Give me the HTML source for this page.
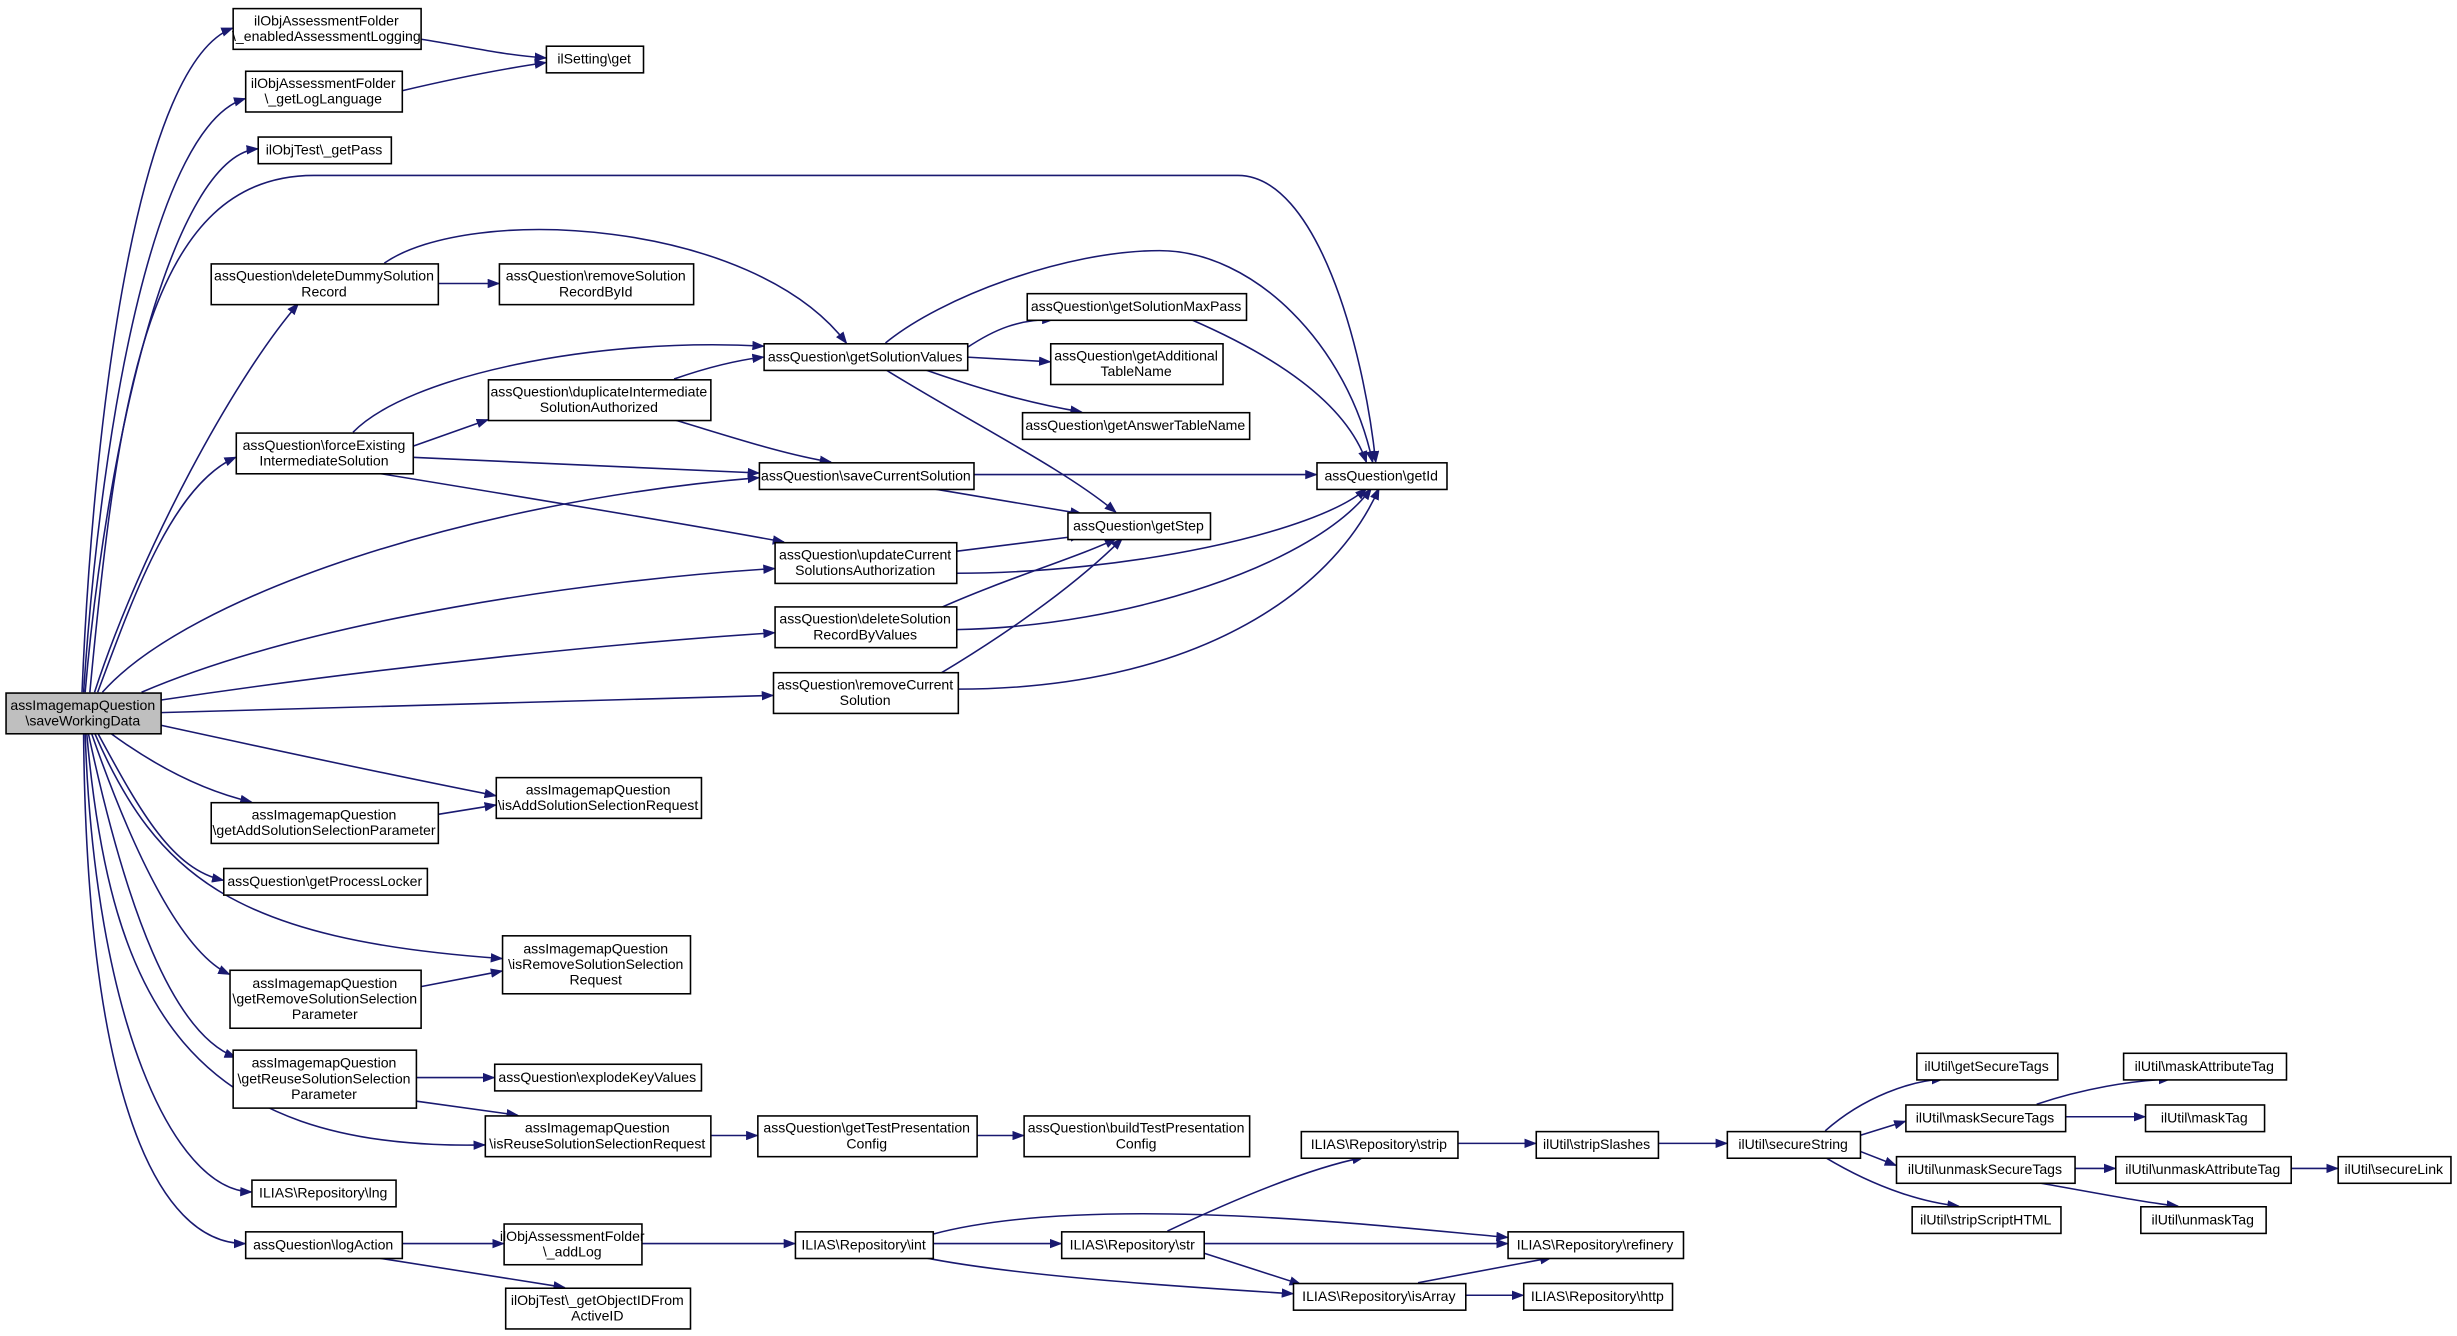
<!DOCTYPE html>
<html><head><meta charset="utf-8"><style>
html,body{margin:0;padding:0;background:#fff;}
svg{display:block}
text{font-family:"Liberation Sans",sans-serif;font-size:9px;fill:#000}
</style></head><body>
<svg id="s" width="2457" height="1336" viewBox="0 0 1568 853" xmlns="http://www.w3.org/2000/svg">
<defs><marker id="a" markerWidth="8" markerHeight="6" refX="7" refY="3" orient="auto" markerUnits="userSpaceOnUse"><path d="M0,0 L8,3 L0,6 z" fill="#191970"/></marker></defs>
<g id="edges" fill="none" stroke="#191970" stroke-width="1" marker-end="url(#a)"></g>
<g id="nodes"></g>
</svg>
<script>
var N=[
[3,442,99,26,["assImagemapQuestion","\\saveWorkingData"],1],
[148,5,120,26,["ilObjAssessmentFolder","\\_enabledAssessmentLogging"]],
[348,29,62,17,["ilSetting\\get"]],
[156,45,100,26,["ilObjAssessmentFolder","\\_getLogLanguage"]],
[164,87,85,17,["ilObjTest\\_getPass"]],
[134,168,145,26,["assQuestion\\deleteDummySolution","Record"]],
[318,168,124,26,["assQuestion\\removeSolution","RecordById"]],
[487,219,130,17,["assQuestion\\getSolutionValues"]],
[655,187,140,17,["assQuestion\\getSolutionMaxPass"]],
[670,219,110,26,["assQuestion\\getAdditional","TableName"]],
[652,263,145,17,["assQuestion\\getAnswerTableName"]],
[311,242,142,26,["assQuestion\\duplicateIntermediate","SolutionAuthorized"]],
[150,276,113,26,["assQuestion\\forceExisting","IntermediateSolution"]],
[484,295,137,17,["assQuestion\\saveCurrentSolution"]],
[840,295,83,17,["assQuestion\\getId"]],
[681,327,91,17,["assQuestion\\getStep"]],
[494,346,116,26,["assQuestion\\updateCurrent","SolutionsAuthorization"]],
[494,387,116,26,["assQuestion\\deleteSolution","RecordByValues"]],
[493,429,118,26,["assQuestion\\removeCurrent","Solution"]],
[316,496,131,26,["assImagemapQuestion","\\isAddSolutionSelectionRequest"]],
[134,512,145,26,["assImagemapQuestion","\\getAddSolutionSelectionParameter"]],
[142,554,130,17,["assQuestion\\getProcessLocker"]],
[320,597,120,37,["assImagemapQuestion","\\isRemoveSolutionSelection","Request"]],
[146,619,122,37,["assImagemapQuestion","\\getRemoveSolutionSelection","Parameter"]],
[148,670,117,37,["assImagemapQuestion","\\getReuseSolutionSelection","Parameter"]],
[315,679,132,17,["assQuestion\\explodeKeyValues"]],
[309,712,144,26,["assImagemapQuestion","\\isReuseSolutionSelectionRequest"]],
[483,712,140,26,["assQuestion\\getTestPresentation","Config"]],
[653,712,144,26,["assQuestion\\buildTestPresentation","Config"]],
[160,753,92,17,["ILIAS\\Repository\\lng"]],
[156,786,100,17,["assQuestion\\logAction"]],
[321,781,88,26,["ilObjAssessmentFolder","\\_addLog"]],
[322,822,118,26,["ilObjTest\\_getObjectIDFrom","ActiveID"]],
[507,786,88,17,["ILIAS\\Repository\\int"]],
[677,786,91,17,["ILIAS\\Repository\\str"]],
[830,722,100,17,["ILIAS\\Repository\\strip"]],
[980,722,78,17,["ilUtil\\stripSlashes"]],
[1102,722,85,17,["ilUtil\\secureString"]],
[962,786,112,17,["ILIAS\\Repository\\refinery"]],
[825,819,110,17,["ILIAS\\Repository\\isArray"]],
[972,819,95,17,["ILIAS\\Repository\\http"]],
[1223,672,90,17,["ilUtil\\getSecureTags"]],
[1216,705,102,17,["ilUtil\\maskSecureTags"]],
[1210,738,114,17,["ilUtil\\unmaskSecureTags"]],
[1220,770,95,17,["ilUtil\\stripScriptHTML"]],
[1355,672,104,17,["ilUtil\\maskAttributeTag"]],
[1369,705,76,17,["ilUtil\\maskTag"]],
[1350,738,112,17,["ilUtil\\unmaskAttributeTag"]],
[1366,770,80,17,["ilUtil\\unmaskTag"]],
[1492,738,72,17,["ilUtil\\secureLink"]]
];
var E=[
"M52,442 C60,250 90,40 148,18","M53,442 C65,260 100,80 156,63","M54,442 C68,280 110,100 164,95",
"M57,442 C75,250 95,112 200,112 L790,112 C840,112 870,220 878,295",
"M60,442 C90,350 150,240 190,194","M62,442 C85,380 110,310 150,292",
"M65,442 C120,380 300,320 484,305","M90,442 C200,395 380,370 494,363",
"M102,447 C250,425 400,410 494,404","M102,455 L493,444",
"M102,463 C180,480 250,495 316,508","M70,468 C100,490 130,505 160,512",
"M62,468 C90,520 110,555 142,562","M60,468 C100,560 150,600 320,612",
"M58,468 C90,560 120,610 146,622","M56,468 C80,580 110,660 150,675",
"M55,468 C70,640 120,735 309,731","M54,468 C60,650 110,760 160,761",
"M53,468 C55,700 100,794 156,794",
"M268,25 C300,30 320,35 348,37","M256,58 C290,50 320,44 348,40",
"M279,181 L318,181","M245,168 C300,130 480,140 540,219",
"M617,222 C635,210 650,204 672,204","M617,228 L670,231",
"M590,236 C630,250 660,258 690,263","M565,236 C620,270 680,300 712,327",
"M565,219 C600,190 680,160 740,160 C800,160 860,220 876,295",
"M760,204 C820,230 860,260 872,295",
"M225,276 C260,240 380,215 487,221","M263,285 L311,268","M263,292 L484,302",
"M240,302 C350,320 440,335 500,346","M430,242 C450,235 470,230 487,228",
"M430,268 C470,280 500,290 530,295","M621,303 L840,303","M595,312 L690,328",
"M610,352 L690,342","M610,366 C720,366 840,340 872,312",
"M598,389 C640,370 690,355 712,344","M610,402 C720,400 840,360 875,312",
"M600,430 C650,400 690,370 716,344","M611,440 C760,440 850,380 880,312",
"M279,520 L316,514","M268,630 L320,620","M265,688 L315,688","M265,703 L330,712",
"M453,725 L483,725","M623,725 L653,725","M256,794 L321,794","M240,803 L360,822",
"M409,794 L507,794","M595,794 L677,794","M595,788 C700,760 900,785 962,790",
"M590,803 C650,815 760,822 825,826","M768,794 L962,794",
"M745,786 C800,760 840,745 870,739","M768,800 L830,820","M905,819 L990,803",
"M935,827 L972,827","M930,730 L980,730","M1058,730 L1102,730",
"M1165,722 C1190,700 1220,690 1240,689","M1187,725 L1216,716","M1187,735 L1210,744",
"M1165,739 C1200,760 1230,768 1250,770","M1300,705 C1330,695 1360,690 1385,689",
"M1318,713 L1369,713","M1324,746 L1350,746","M1300,755 C1340,762 1370,768 1390,770",
"M1462,746 L1492,746"
];
var ns="http://www.w3.org/2000/svg",ge=document.getElementById("edges"),gn=document.getElementById("nodes");
E.forEach(function(d){var p=document.createElementNS(ns,"path");p.setAttribute("d",d);ge.appendChild(p);});
N.forEach(function(n){var r=document.createElementNS(ns,"rect");r.setAttribute("x",n[0]+.5);r.setAttribute("y",n[1]+.5);r.setAttribute("width",n[2]);r.setAttribute("height",n[3]);r.setAttribute("fill",n[5]?"#bfbfbf":"#fff");r.setAttribute("stroke","#000");r.setAttribute("stroke-width","1");gn.appendChild(r);
var L=n[4],cy=n[1]+n[3]/2,st=cy-(L.length-1)*5;
L.forEach(function(s,i){var t=document.createElementNS(ns,"text");t.setAttribute("x",n[0]+n[2]/2);t.setAttribute("y",st+i*10+3.2);t.setAttribute("text-anchor","middle");t.textContent=s;gn.appendChild(t);});});
</script>
</body></html>
